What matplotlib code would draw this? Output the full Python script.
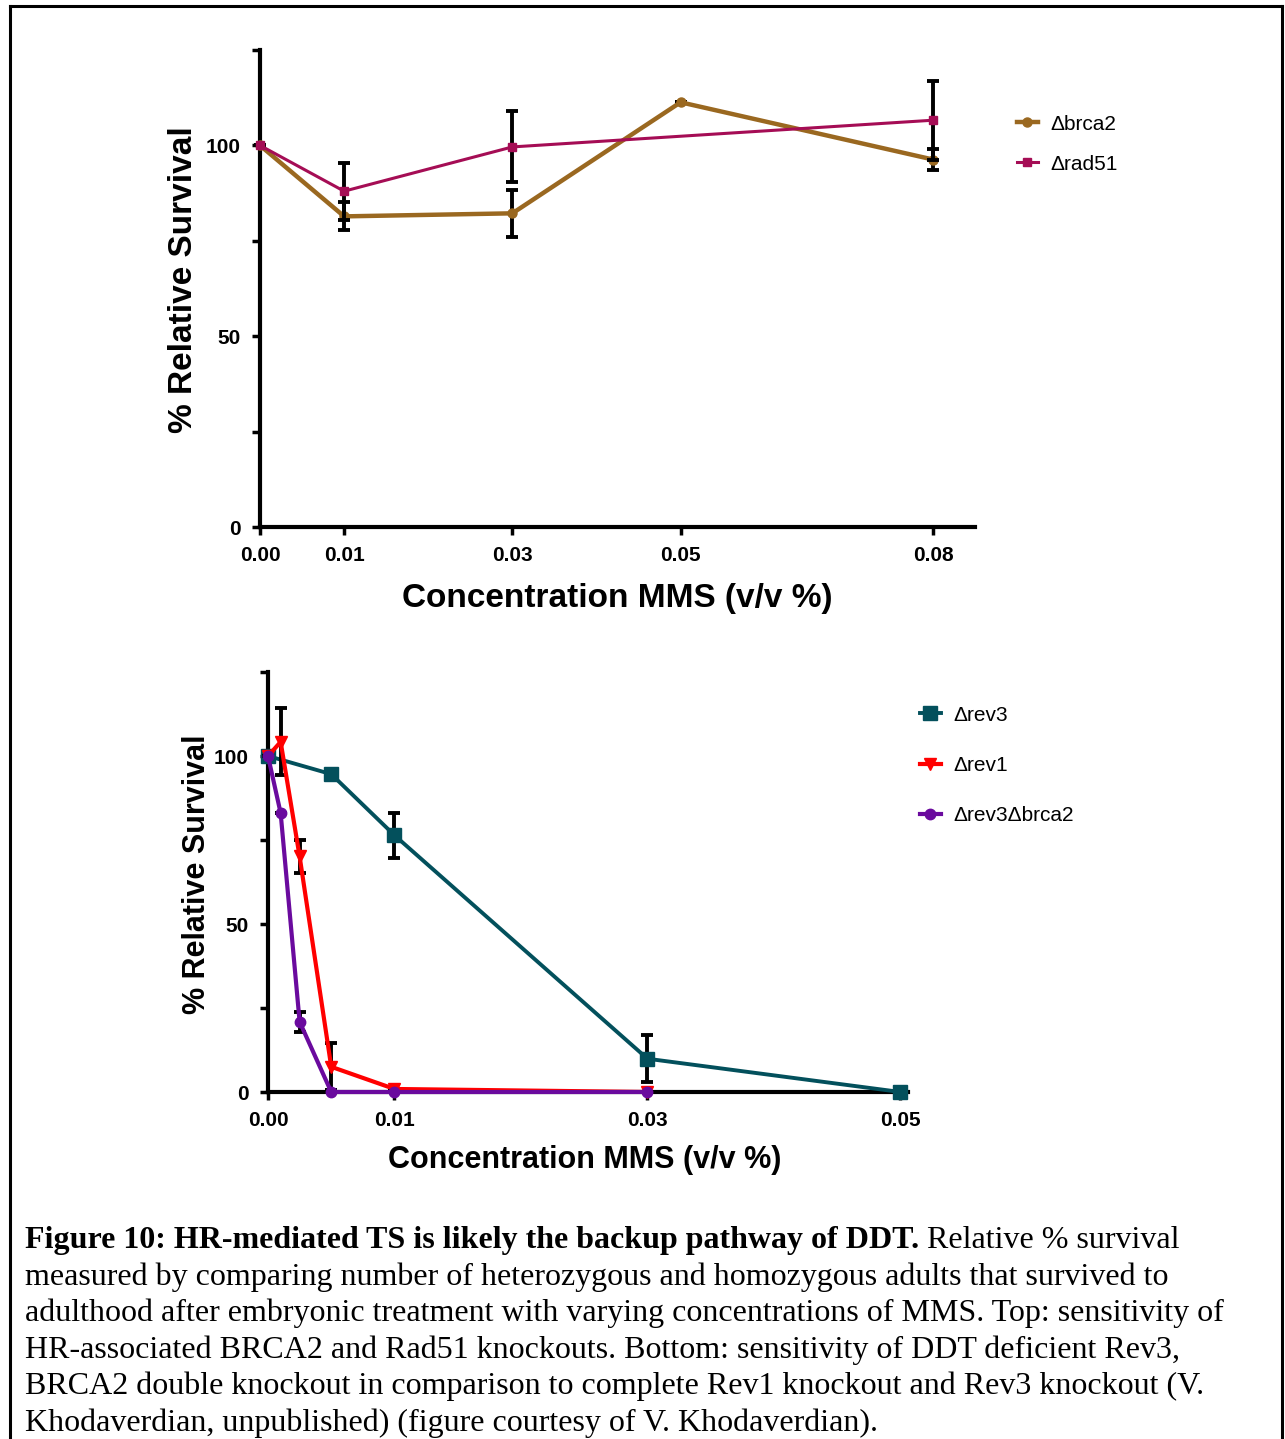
import matplotlib
matplotlib.use("Agg")
import matplotlib.pyplot as plt
from matplotlib.lines import Line2D

plt.rcParams['font.family'] = ['Liberation Sans', 'DejaVu Sans']

# top panel: HR knockouts
top_x = [0.0, 0.01, 0.03, 0.05, 0.08]
brca2_y = [100, 81.4, 82.2, 111.3, 96.3]
brca2_err = [0, 3.7, 6.2, 0, 2.7]
# rad51 has no point at 0.05
rad51_x = [0.0, 0.01, 0.03, 0.08]
rad51_y = [100, 88.0, 99.6, 106.6]
rad51_err = [0, 7.5, 9.3, 10.3]
top_ticks = [0.0, 0.01, 0.03, 0.05, 0.08]
top_ticklabels = ["0.00", "0.01", "0.03", "0.05", "0.08"]

# bottom panel: DDT knockouts
rev3_x = [0.0, 0.005, 0.01, 0.03, 0.05]
rev3_y = [100, 94.6, 76.4, 9.9, 0]
rev3_err = [0, 0, 6.7, 7.0, 0]
rev1_x = [0.0, 0.001, 0.0025, 0.005, 0.01, 0.03]
rev1_y = [100, 104.2, 70.1, 7.5, 0.9, 0]
rev1_err = [0, 10.0, 5.0, 7.0, 0, 0]
dko_x = [0.0, 0.001, 0.0025, 0.005, 0.01, 0.03]
dko_y = [100, 83.0, 20.9, 0, 0, 0]
dko_err = [0, 0, 3.0, 0, 0, 0]
bot_ticks = [0.0, 0.01, 0.03, 0.05]
bot_ticklabels = ["0.00", "0.01", "0.03", "0.05"]

y_ticks = [0, 25, 50, 75, 100, 125]
y_ticklabels = ["0", "", "50", "", "100", ""]

W, H = 1285, 1439
fig = plt.figure(figsize=(W / 100, H / 100), dpi=100)


def px_axes(l, t, r, b):
    return fig.add_axes([l / W, 1 - b / H, (r - l) / W, (b - t) / H])


def style(ax, ticks, labels, xmax):
    ax.set_xlim(0, xmax)
    ax.set_ylim(0, 125)
    for s in ["top", "right"]:
        ax.spines[s].set_visible(False)
    for s in ["left", "bottom"]:
        ax.spines[s].set_linewidth(3)
    ax.set_xticks(ticks)
    ax.set_xticklabels(labels)
    ax.set_yticks(y_ticks)
    ax.set_yticklabels(y_ticklabels)
    ax.tick_params(width=2.5, length=6, labelsize=15, pad=8)
    for lab in ax.get_xticklabels() + ax.get_yticklabels():
        lab.set_fontweight("bold")


# ---- top ----
ax1 = px_axes(260, 50, 975, 527)
ax1.errorbar(top_x, brca2_y, yerr=brca2_err, color="#9a6820", lw=3.2,
             marker="o", ms=6.5, ecolor="black", elinewidth=2.8, capsize=4,
             capthick=2.8, clip_on=False, zorder=3)
ax1.errorbar(rad51_x, rad51_y, yerr=rad51_err, color="#a50d55", lw=2.2,
             marker="s", ms=6, ecolor="black", elinewidth=2.8, capsize=4,
             capthick=2.8, clip_on=False, zorder=4)
style(ax1, top_ticks, top_ticklabels, 0.085)
h1 = [Line2D([], [], color="#9a6820", lw=3.2, marker="o", ms=6.5),
      Line2D([], [], color="#a50d55", lw=2.2, marker="s", ms=6)]
fig.legend(h1, ["Δbrca2", "Δrad51"], loc="upper left",
           bbox_to_anchor=(998 / W, 1 - 96 / H), frameon=False,
           fontsize=15, handlelength=1.0, handletextpad=0.6,
           labelspacing=1.0)
fig.text(183 / W, 1 - 280 / H, "% Relative Survival", rotation=90,
         ha="center", va="center", fontsize=24, fontweight="bold")
fig.text(617 / W, 1 - 598 / H, "Concentration MMS (v/v %)",
         ha="center", va="center", fontsize=24, fontweight="bold")

# ---- bottom ----
ax2 = px_axes(268, 672, 908, 1092)
ax2.errorbar(rev3_x, rev3_y, yerr=rev3_err, color="#03505c", lw=2.8,
             marker="s", ms=10, ecolor="black", elinewidth=2.8, capsize=4,
             capthick=2.8, clip_on=False, zorder=3)
ax2.errorbar(rev1_x, rev1_y, yerr=rev1_err, color="#ff0000", lw=3,
             marker="v", ms=8.5, ecolor="black", elinewidth=2.8, capsize=4,
             capthick=2.8, clip_on=False, zorder=4)
ax2.errorbar(dko_x, dko_y, yerr=dko_err, color="#6a0a9e", lw=3,
             marker="o", ms=7.5, ecolor="black", elinewidth=2.8, capsize=4,
             capthick=2.8, clip_on=False, zorder=5)
style(ax2, bot_ticks, bot_ticklabels, 0.0506)
h2 = [Line2D([], [], color="#03505c", lw=2.8, marker="s", ms=10),
      Line2D([], [], color="#ff0000", lw=3, marker="v", ms=8.5),
      Line2D([], [], color="#6a0a9e", lw=3, marker="o", ms=7.5)]
fig.legend(h2, ["Δrev3", "Δrev1", "Δrev3Δbrca2"], loc="upper left",
           bbox_to_anchor=(901 / W, 1 - 687 / H), frameon=False,
           fontsize=15, handlelength=1.0, handletextpad=0.6,
           labelspacing=1.5)
fig.text(197 / W, 1 - 874 / H, "% Relative Survival", rotation=90,
         ha="center", va="center", fontsize=22, fontweight="bold")
fig.text(585 / W, 1 - 1160 / H, "Concentration MMS (v/v %)",
         ha="center", va="center", fontsize=22, fontweight="bold")

# ---- caption ----
serif = ["Liberation Serif", "DejaVu Serif"]
cap_size = 23
lines = [
    "measured by comparing number of heterozygous and homozygous adults that survived to",
    "adulthood after embryonic treatment with varying concentrations of MMS. Top: sensitivity of",
    "HR-associated BRCA2 and Rad51 knockouts. Bottom: sensitivity of DDT deficient Rev3,",
    "BRCA2 double knockout in comparison to complete Rev1 knockout and Rev3 knockout (V.",
    "Khodaverdian, unpublished) (figure courtesy of V. Khodaverdian).",
]
y0 = 1248
step = 36.6
bold = fig.text(25 / W, 1 - y0 / H,
                "Figure 10: HR-mediated TS is likely the backup pathway of DDT.",
                family=serif, fontsize=cap_size, fontweight="bold",
                va="baseline")
r = fig.canvas.get_renderer()
bb = bold.get_window_extent(renderer=r)
fig.text(bb.x1 / W + 8 / W, 1 - y0 / H, "Relative % survival", family=serif,
         fontsize=cap_size, va="baseline")
for i, ln in enumerate(lines):
    fig.text(25 / W, 1 - (y0 + step * (i + 1)) / H, ln, family=serif,
             fontsize=cap_size, va="baseline")

# frame around the figure
for xs, ys in [((10, 10), (6, H + 5)), ((10, 1282), (6, 6)),
               ((1282, 1282), (6, H + 5))]:
    fig.add_artist(Line2D([x / W for x in xs], [1 - y / H for y in ys],
                          color="black", lw=2.2))

fig.savefig("out.png", dpi=100)
